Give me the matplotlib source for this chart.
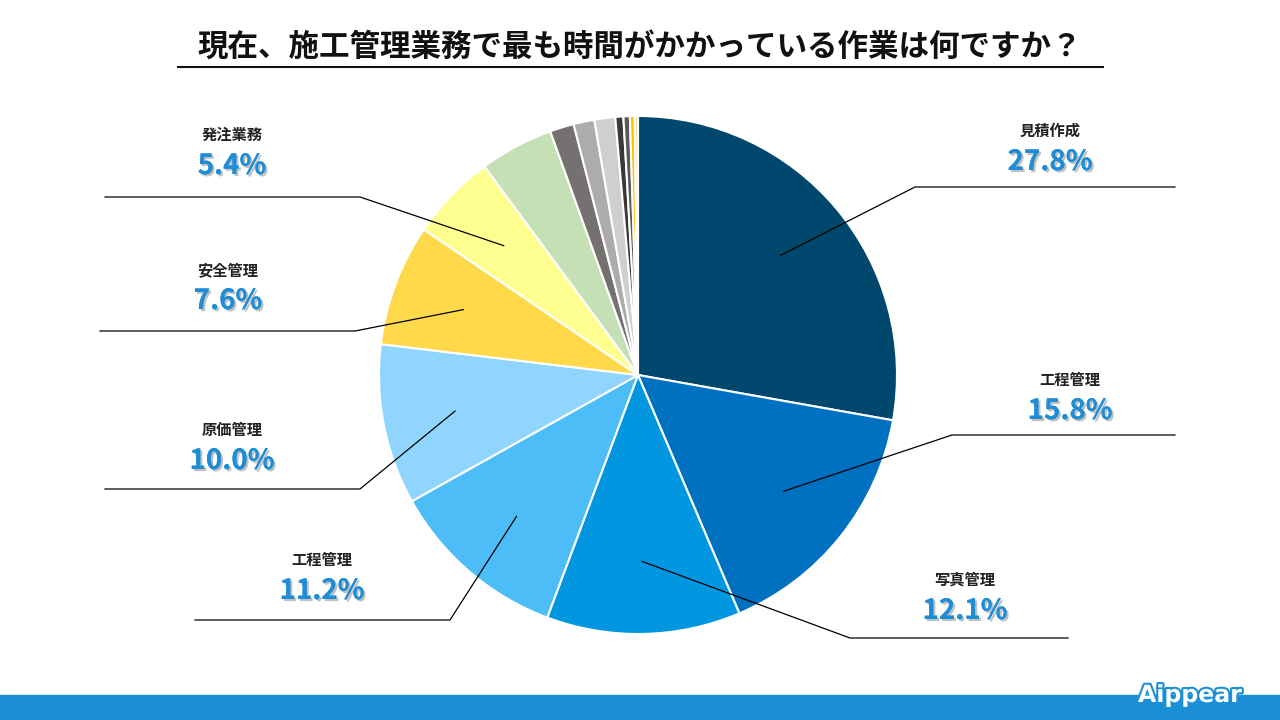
import numpy as np
import matplotlib.pyplot as plt
import matplotlib.patheffects as pe

plt.rcParams['font.family'] = 'Noto Sans CJK JP'

title = '現在、施工管理業務で最も時間がかかっている作業は何ですか？'
names = ['見積作成', '工程管理', '写真管理', '工程管理', '原価管理', '安全管理', '発注業務',
         '', '', '', '', '', '', '', '']
values = [27.8, 15.8, 12.1, 11.2, 10.0, 7.6, 5.4, 4.6, 1.5, 1.3, 1.3, 0.5, 0.4, 0.3, 0.2]
colors = ['#00476e', '#0070c0', '#0096e0', '#4dbdf7', '#8fd5fd', '#ffd94a', '#ffff8f',
          '#c5e0b4', '#767171', '#aeabab', '#d0cece', '#3b3838', '#595959', '#ffc000', '#f0e0a0']

# label layout (pixel coords, y from top): text x, name y, elbow x, line y, line end x
layout = [
    (1050, 131, 915, 187, 1175),
    (1070, 380, 952, 435, 1175),
    (965, 580, 850, 638, 1068),
    (322, 560, 450, 620, 195),
    (232, 430, 360, 489, 105),
    (228, 270, 355, 331, 100),
    (232, 135, 360, 197, 105),
]

W, H = 1280, 720
fig = plt.figure(figsize=(12.8, 7.2), dpi=100)
ax = fig.add_axes([0, 0, 1, 1])

cx, cy, R = 638, H - 375, 259
wedges, _ = ax.pie(values, colors=colors, startangle=90, counterclock=False,
                   center=(cx, cy), radius=R, frame=True,
                   wedgeprops=dict(edgecolor='white', linewidth=1.5))
ax.set_xlim(0, W)
ax.set_ylim(0, H)
ax.axis('off')

shadow = [pe.withSimplePatchShadow(offset=(1.5, -1.5), shadow_rgbFace='#bbbbbb', alpha=0.9), pe.Normal()]
for i, (tx, ny, ex, ly, lx) in enumerate(layout):
    w = wedges[i]
    ang = np.deg2rad((w.theta1 + w.theta2) / 2)
    px, py = cx + 0.72 * R * np.cos(ang), cy + 0.72 * R * np.sin(ang)
    ax.plot([px, ex, lx], [py, H - ly, H - ly], color='black', lw=0.9)
    ax.text(tx, H - ny, names[i], ha='center', va='center', fontsize=11, fontweight='bold', color='#222222')
    ax.text(tx, H - ny - 31, f'{values[i]:.1f}%', ha='center', va='center', fontsize=20,
            fontweight='bold', color='#1f8dd6', path_effects=shadow)

ax.text(W / 2, H - 48, title, ha='center', va='center', fontsize=22, fontweight='bold', color='#111111')
ax.plot([178, 1103], [H - 67, H - 67], color='#111111', lw=1.5)

ax.add_patch(plt.Rectangle((0, 0), W, 25, color='#1b8fd6'))
ax.text(1190, 25, 'Aippear', ha='center', va='center', fontsize=17, fontweight='bold',
        color='white', fontfamily='DejaVu Sans',
        path_effects=[pe.withStroke(linewidth=3, foreground='#1b8fd6')])

fig.savefig('out.png', dpi=100)
